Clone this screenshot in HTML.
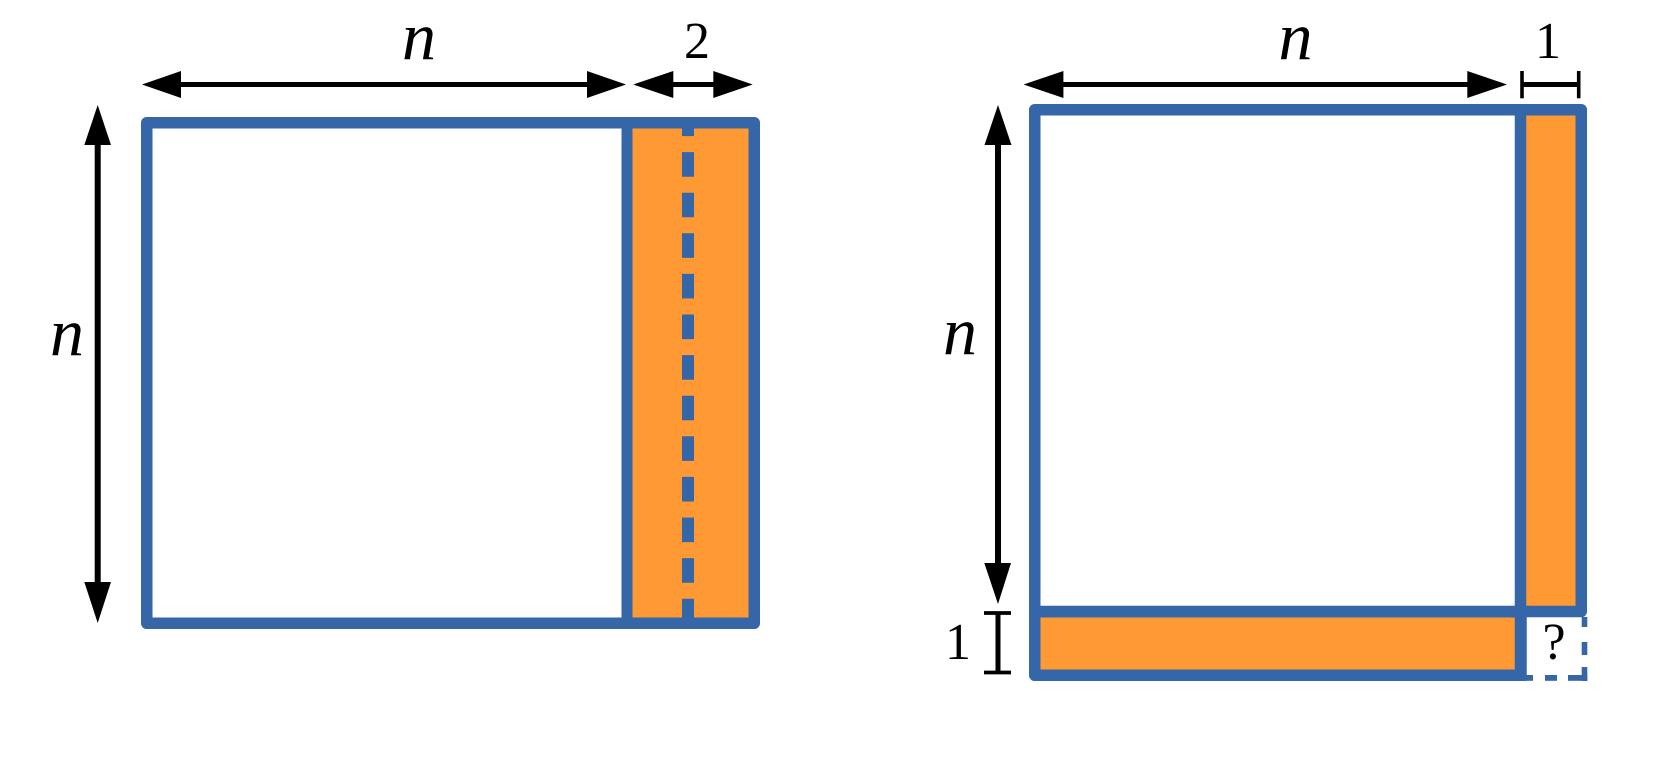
<!DOCTYPE html>
<html>
<head>
<meta charset="utf-8">
<style>
  html, body { margin: 0; padding: 0; background: #ffffff; }
  body { width: 1661px; height: 762px; overflow: hidden; }
  svg { display: block; }
  text { font-family: "Liberation Serif", "DejaVu Serif", serif; fill: #000; }
  .it { font-style: italic; }
</style>
</head>
<body>
<svg width="1661" height="762" viewBox="0 0 1661 762" xmlns="http://www.w3.org/2000/svg">
  <rect x="0" y="0" width="1661" height="762" fill="#ffffff"/>

  <!-- ============ LEFT DIAGRAM ============ -->
  <!-- orange strip -->
  <rect x="627" y="122" width="128" height="503" fill="#FF9933"/>
  <!-- dashed middle line -->
  <line x1="688" y1="117" x2="688" y2="629" stroke="#3566A8" stroke-width="12" stroke-dasharray="24.6 16" stroke-dashoffset="5.5"/>
  <!-- divider -->
  <line x1="627" y1="117" x2="627" y2="629" stroke="#3566A8" stroke-width="11"/>
  <!-- outer rect -->
  <rect x="146.75" y="122.75" width="607.5" height="500.5" fill="none" stroke="#3566A8" stroke-width="11.5" stroke-linejoin="round"/>

  <!-- top "n" arrow -->
  <line x1="170" y1="84.5" x2="600" y2="84.5" stroke="#000" stroke-width="5"/>
  <polygon points="142,84.5 181,71 181,98" fill="#000"/>
  <polygon points="626,84.5 587,71 587,98" fill="#000"/>
  <!-- "2" arrow -->
  <line x1="660" y1="84.5" x2="726" y2="84.5" stroke="#000" stroke-width="5"/>
  <polygon points="633.3,84.5 673.3,71 673.3,98" fill="#000"/>
  <polygon points="752.7,84.5 713.3,71 713.3,98" fill="#000"/>
  <!-- vertical arrow -->
  <line x1="97.7" y1="130" x2="97.7" y2="598" stroke="#000" stroke-width="6"/>
  <polygon points="97.7,105 84.3,145 111,145" fill="#000"/>
  <polygon points="97.7,623 84.3,582 111,582" fill="#000"/>

  <text class="it" x="419" y="59" font-size="68" text-anchor="middle">n</text>
  <text x="697" y="58" font-size="52" text-anchor="middle">2</text>
  <text class="it" x="67" y="355" font-size="68" text-anchor="middle">n</text>

  <!-- ============ RIGHT DIAGRAM ============ -->
  <!-- orange right column -->
  <rect x="1520" y="109" width="62" height="503" fill="#FF9933"/>
  <!-- orange bottom strip -->
  <rect x="1035" y="611" width="486" height="65" fill="#FF9933"/>

  <!-- bottom rect -->
  <rect x="1034.75" y="611.75" width="486.25" height="63.5" fill="none" stroke="#3566A8" stroke-width="11.5" stroke-linejoin="round"/>
  <!-- upper rect -->
  <rect x="1034.75" y="109.75" width="546.5" height="501.75" fill="none" stroke="#3566A8" stroke-width="11.5" stroke-linejoin="round"/>
  <!-- vertical divider -->
  <line x1="1520.5" y1="104" x2="1520.5" y2="681" stroke="#3566A8" stroke-width="11.5"/>

  <!-- dashed corner square -->
  <rect x="1581.7" y="617" width="5.6" height="10" fill="#3566A8"/>
  <rect x="1581.7" y="642" width="5.6" height="13" fill="#3566A8"/>
  <rect x="1581.7" y="667" width="5.6" height="14" fill="#3566A8"/>
  <rect x="1526" y="675" width="7" height="5.8" fill="#3566A8"/>
  <rect x="1545" y="675" width="12" height="5.8" fill="#3566A8"/>
  <rect x="1568" y="675" width="19.3" height="5.8" fill="#3566A8"/>
  <text x="1554" y="659" font-size="52" text-anchor="middle">?</text>

  <!-- top "n" arrow -->
  <line x1="1050" y1="84.5" x2="1480" y2="84.5" stroke="#000" stroke-width="5"/>
  <polygon points="1023.6,84.5 1063.4,71 1063.4,98" fill="#000"/>
  <polygon points="1507,84.5 1467.3,71 1467.3,98" fill="#000"/>
  <!-- "1" bracket horizontal -->
  <line x1="1522" y1="84.5" x2="1579" y2="84.5" stroke="#000" stroke-width="5"/>
  <line x1="1522" y1="71" x2="1522" y2="98.3" stroke="#000" stroke-width="3.6"/>
  <line x1="1578.7" y1="71" x2="1578.7" y2="98.3" stroke="#000" stroke-width="3.6"/>

  <!-- vertical arrow -->
  <line x1="998" y1="130" x2="998" y2="580" stroke="#000" stroke-width="6"/>
  <polygon points="998,105 984.5,145 1011.5,145" fill="#000"/>
  <polygon points="998,604 984.3,563 1011,563" fill="#000"/>
  <!-- "1" bracket vertical -->
  <line x1="998" y1="613" x2="998" y2="672.5" stroke="#000" stroke-width="5"/>
  <line x1="984" y1="613" x2="1011" y2="613" stroke="#000" stroke-width="3.8"/>
  <line x1="984" y1="672.5" x2="1011" y2="672.5" stroke="#000" stroke-width="3.8"/>

  <text class="it" x="1295.5" y="59" font-size="68" text-anchor="middle">n</text>
  <text x="1548" y="58" font-size="52" text-anchor="middle">1</text>
  <text class="it" x="960" y="354" font-size="68" text-anchor="middle">n</text>
  <text x="958" y="659" font-size="52" text-anchor="middle">1</text>
</svg>
</body>
</html>
